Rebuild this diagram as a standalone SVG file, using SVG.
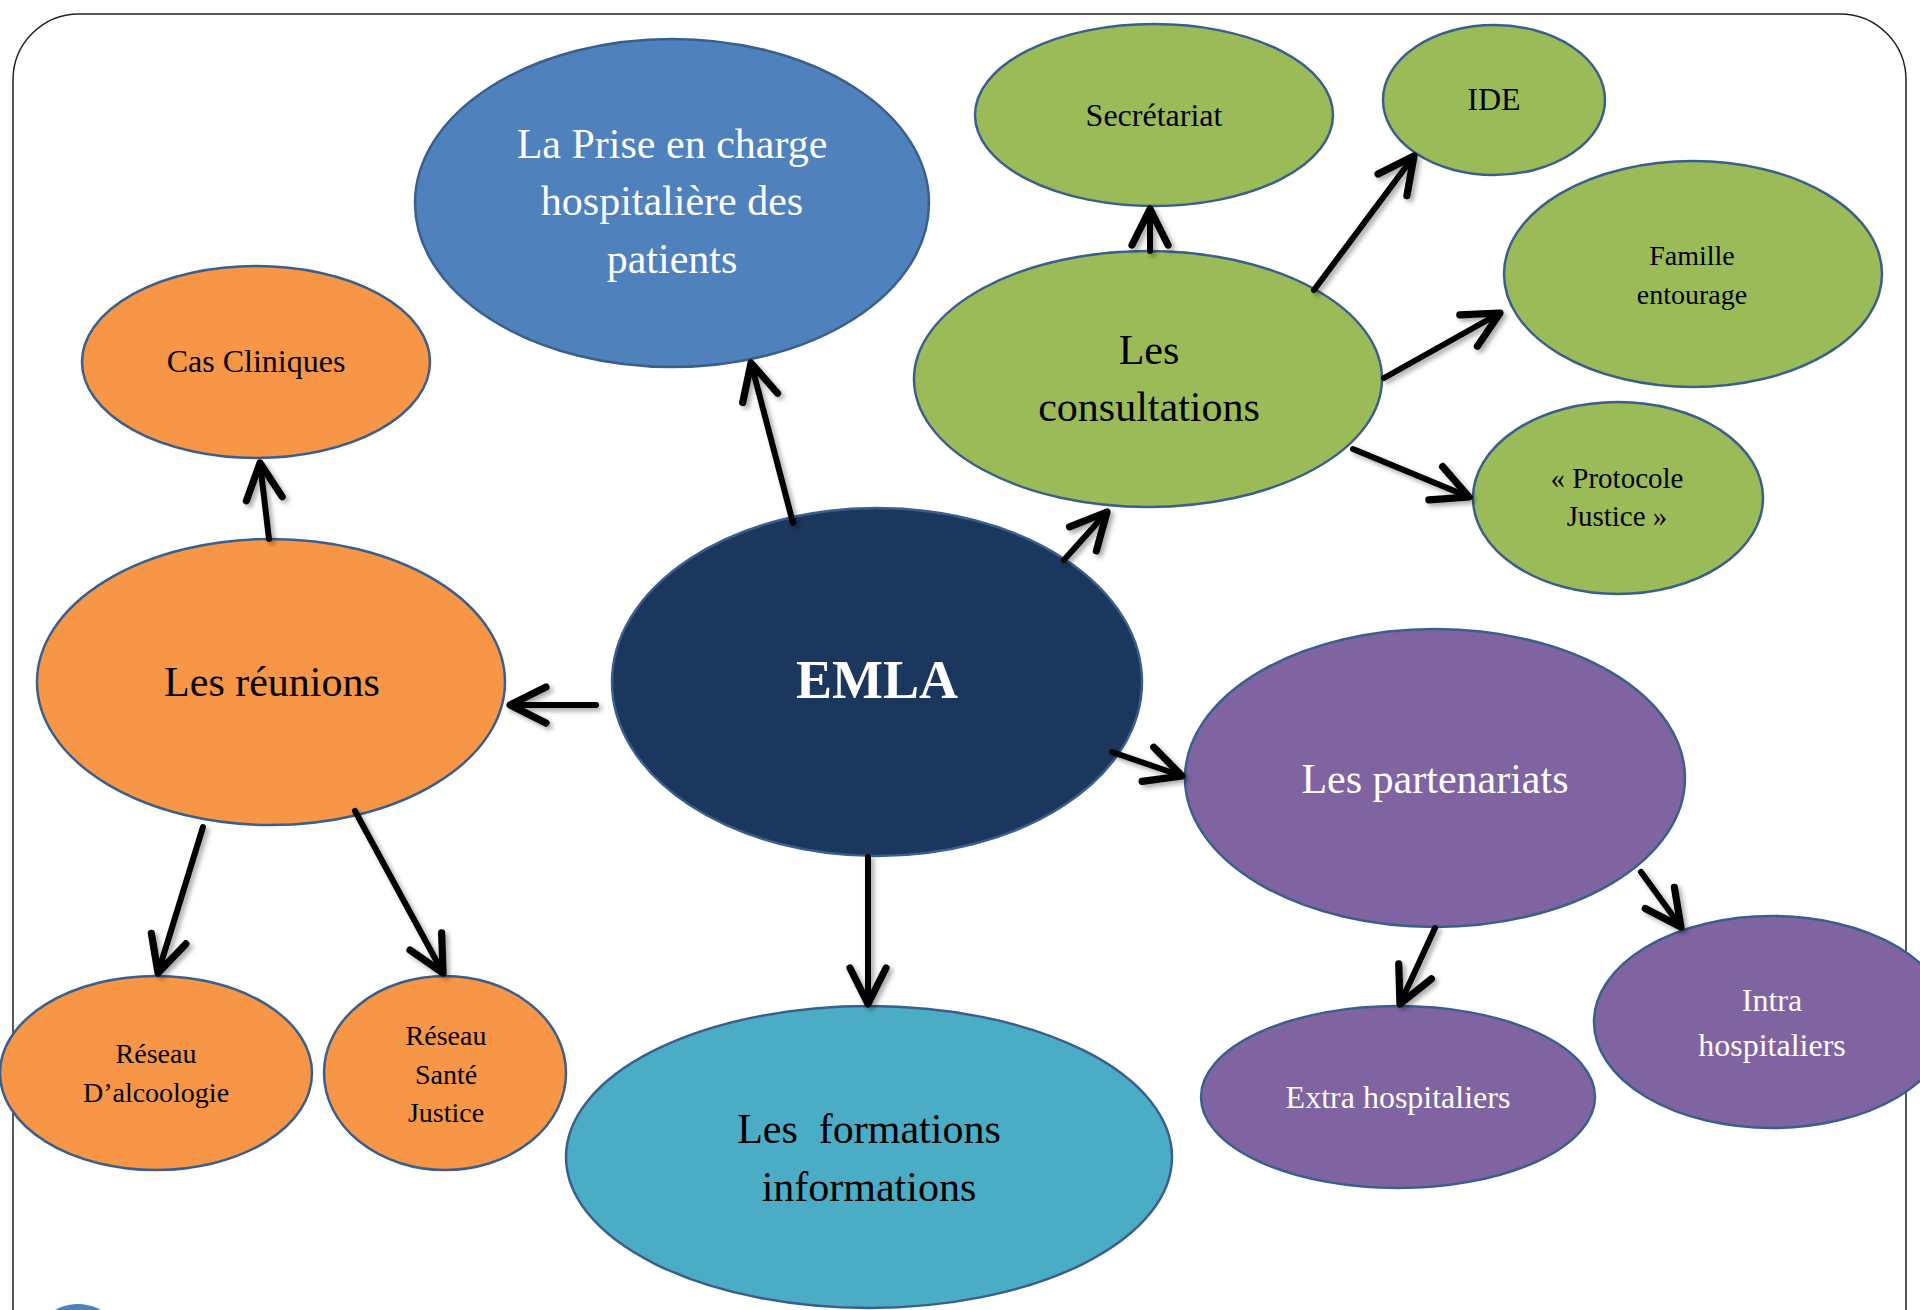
<svg xmlns="http://www.w3.org/2000/svg" width="1920" height="1310" viewBox="0 0 1920 1310">
  <style>
    .node { stroke: #3a5f8b; stroke-width: 2.5; }
    .navy { fill: #1b375e; }
    .blue { fill: #4f81bd; }
    .green { fill: #9bbb59; }
    .orange { fill: #f79646; }
    .purple { fill: #8064a2; }
    .cyan { fill: #4bacc6; }
    text { font-family: "Liberation Serif", "Times New Roman", serif; text-anchor: middle; }
    .dark { fill: #000; }
    .light { fill: #fff; }
    .link { stroke: #000; stroke-width: 6; fill: none; stroke-linecap: round; marker-end: url(#head); }
  </style>
  <defs>
    <marker id="head" markerUnits="userSpaceOnUse" markerWidth="60" markerHeight="60" viewBox="-40 -25 50 50" refX="0" refY="0" orient="auto">
      <path d="M-30,-15 L0,0 L-30,15" fill="none" stroke="#000" stroke-width="6" stroke-linecap="round" stroke-linejoin="round"/>
    </marker>
    <filter id="shadow" x="-20%" y="-20%" width="140%" height="140%">
      <feDropShadow dx="3" dy="3" stdDeviation="2.5" flood-color="#000" flood-opacity="0.35"/>
    </filter>
  </defs>

  <!-- page frame -->
  <rect x="13" y="14" width="1893" height="1400" rx="66" ry="66" fill="#fff" stroke="#222" stroke-width="1.5"/>
  <circle cx="78" cy="1351" r="47" fill="#4f81bd"/>

  <!-- nodes -->
  <g id="emla">
    <ellipse class="node navy" cx="877" cy="682" rx="265" ry="174"/>
    <text class="light" x="877" y="698" font-size="54" font-weight="bold">EMLA</text>
  </g>
  <g id="prise-en-charge">
    <ellipse class="node blue" cx="672" cy="203" rx="257" ry="164"/>
    <text class="light" font-size="42"><tspan x="672" y="158">La Prise en charge</tspan><tspan x="672" y="215">hospitalière des</tspan><tspan x="672" y="273">patients</tspan></text>
  </g>
  <g id="consultations">
    <ellipse class="node green" cx="1148" cy="379" rx="234" ry="128"/>
    <text class="dark" font-size="42"><tspan x="1149" y="364">Les</tspan><tspan x="1149" y="421">consultations</tspan></text>
  </g>
  <g id="secretariat">
    <ellipse class="node green" cx="1154" cy="115" rx="179" ry="91"/>
    <text class="dark" x="1154" y="126" font-size="32">Secrétariat</text>
  </g>
  <g id="ide">
    <ellipse class="node green" cx="1494" cy="100" rx="111" ry="75"/>
    <text class="dark" x="1494" y="110" font-size="32">IDE</text>
  </g>
  <g id="famille">
    <ellipse class="node green" cx="1693" cy="274" rx="189" ry="113"/>
    <text class="dark" font-size="28"><tspan x="1692" y="265">Famille</tspan><tspan x="1692" y="304">entourage</tspan></text>
  </g>
  <g id="protocole">
    <ellipse class="node green" cx="1618" cy="498" rx="145" ry="96"/>
    <text class="dark" font-size="29"><tspan x="1617" y="488">« Protocole</tspan><tspan x="1617" y="526">Justice »</tspan></text>
  </g>
  <g id="cas-cliniques">
    <ellipse class="node orange" cx="256" cy="362" rx="174" ry="96"/>
    <text class="dark" x="256" y="372" font-size="32">Cas Cliniques</text>
  </g>
  <g id="reunions">
    <ellipse class="node orange" cx="271" cy="682" rx="234" ry="143"/>
    <text class="dark" x="272" y="696" font-size="42">Les réunions</text>
  </g>
  <g id="reseau-alcoologie">
    <ellipse class="node orange" cx="156" cy="1073" rx="156" ry="97"/>
    <text class="dark" font-size="28"><tspan x="156" y="1063">Réseau</tspan><tspan x="156" y="1102">D’alcoologie</tspan></text>
  </g>
  <g id="reseau-sante-justice">
    <ellipse class="node orange" cx="445" cy="1073" rx="121" ry="97"/>
    <text class="dark" font-size="28"><tspan x="446" y="1045">Réseau</tspan><tspan x="446" y="1084">Santé</tspan><tspan x="446" y="1122">Justice</tspan></text>
  </g>
  <g id="formations">
    <ellipse class="node cyan" cx="869" cy="1157" rx="303" ry="151"/>
    <text class="dark" font-size="42" xml:space="preserve"><tspan x="869" y="1143">Les  formations</tspan><tspan x="869" y="1201">informations</tspan></text>
  </g>
  <g id="partenariats">
    <ellipse class="node purple" cx="1435" cy="778" rx="250" ry="149"/>
    <text class="light" x="1435" y="793" font-size="42">Les partenariats</text>
  </g>
  <g id="extra-hospitaliers">
    <ellipse class="node purple" cx="1398" cy="1097" rx="197" ry="91"/>
    <text class="light" x="1398" y="1108" font-size="32">Extra hospitaliers</text>
  </g>
  <g id="intra-hospitaliers">
    <ellipse class="node purple" cx="1772" cy="1022" rx="178" ry="106"/>
    <text class="light" font-size="32"><tspan x="1772" y="1011">Intra</tspan><tspan x="1772" y="1056">hospitaliers</tspan></text>
  </g>

  <!-- connectors -->
  <g id="connectors" filter="url(#shadow)">
    <line class="link" x1="793" y1="523" x2="751" y2="363"/>
    <line class="link" x1="1064" y1="560" x2="1107" y2="512"/>
    <line class="link" x1="596" y1="705" x2="510" y2="705"/>
    <line class="link" x1="1112" y1="752" x2="1182" y2="776"/>
    <line class="link" x1="868" y1="857" x2="868" y2="1004"/>
    <line class="link" x1="1150" y1="251" x2="1150" y2="209"/>
    <line class="link" x1="1314" y1="290" x2="1414" y2="156"/>
    <line class="link" x1="1384" y1="378" x2="1500" y2="313"/>
    <line class="link" x1="1353" y1="449" x2="1469" y2="497"/>
    <line class="link" x1="269" y1="539" x2="260" y2="463"/>
    <line class="link" x1="203" y1="827" x2="158" y2="973"/>
    <line class="link" x1="355" y1="811" x2="443" y2="973"/>
    <line class="link" x1="1435" y1="928" x2="1400" y2="1004"/>
    <line class="link" x1="1641" y1="872" x2="1681" y2="927"/>
  </g>
</svg>
